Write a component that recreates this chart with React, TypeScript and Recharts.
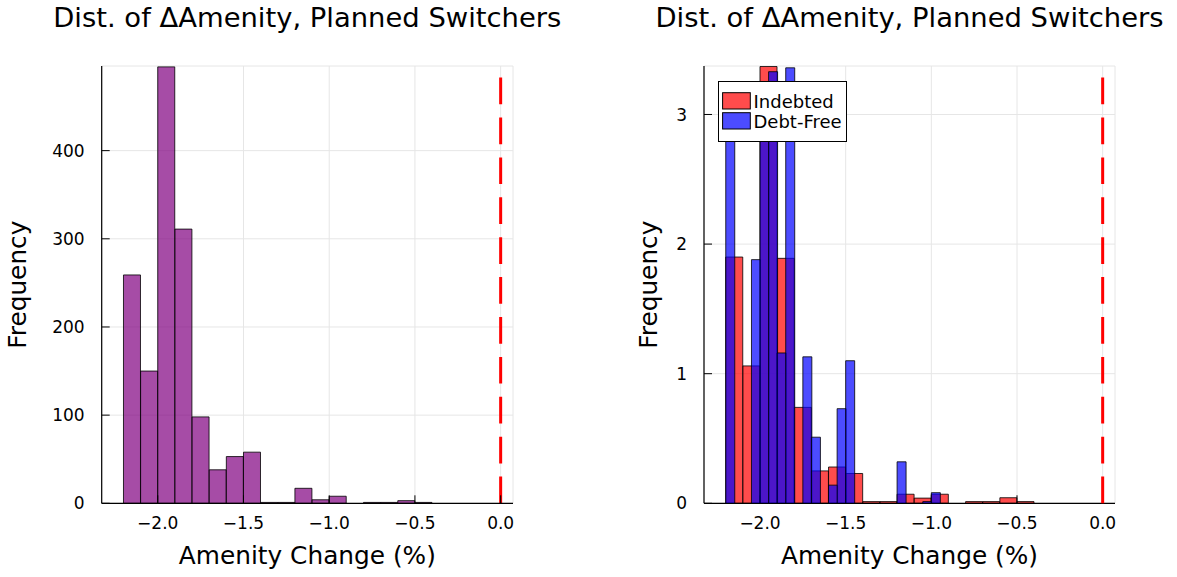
import React from 'react';
import { BarChart, Bar, XAxis, YAxis, CartesianGrid, ReferenceLine, Legend } from 'recharts';

const FONT = '"DejaVu Sans", "Liberation Sans", sans-serif';

const titleText = 'Dist. of \u0394Amenity, Planned Switchers';
const xLabelText = 'Amenity Change (%)';
const yLabelText = 'Frequency';
const seriesNames = ['Indebted', 'Debt-Free'];

const xTicks = [-2, -1.5, -1, -0.5, 0];
const leftYTicks = [0, 100, 200, 300, 400];
const rightYTicks = [0, 1, 2, 3];
const xDomain = [-2.327, 0.072];
const leftYDomain = [0, 496];
const rightYDomain = [0, 3.374];

// Left panel: all planned switchers, bins of width 0.1
const allBinCenters = [-2.15, -2.05, -1.95, -1.85, -1.75, -1.65, -1.55, -1.45, -1.35, -1.25, -1.15, -1.05, -0.95, -0.85, -0.75, -0.65, -0.55, -0.45];
const allCounts = [259, 150, 495, 311, 98, 38, 53, 58, 1, 1, 17, 4, 8, 0, 1, 1, 3, 1];

// Right panel: indebted (bins of width 0.1, normalized)
const indebtedBinCenters = [-2.15, -2.05, -1.95, -1.85, -1.75, -1.65, -1.55, -1.45, -1.35, -1.25, -1.15, -1.05, -0.95, -0.85, -0.75, -0.65, -0.55, -0.45];
const indebtedDensity = [1.9, 1.06, 3.37, 1.89, 0.74, 0.25, 0.28, 0.23, 0.013, 0.013, 0.07, 0.04, 0.07, 0, 0.013, 0.013, 0.043, 0.013];

// Right panel: debt-free (bins of width 0.05, normalized)
const debtFreeBinCenters = [-2.175, -2.125, -2.075, -2.025, -1.975, -1.925, -1.875, -1.825, -1.775, -1.725, -1.675, -1.625, -1.575, -1.525, -1.475, -1.425, -1.375, -1.325, -1.275, -1.225, -1.175, -1.125, -1.075, -1.025, -0.975, -0.925, -0.875, -0.825, -0.775, -0.725, -0.675, -0.625, -0.575, -0.525, -0.475, -0.425];
const debtFreeDensity = [3.12, 0, 0, 1.88, 3.12, 3.33, 1.16, 3.36, 0, 1.13, 0.51, 0, 0.14, 0.73, 1.1, 0, 0, 0, 0, 0, 0.32, 0, 0, 0.013, 0.082, 0, 0, 0, 0, 0, 0, 0, 0, 0, 0, 0];

const allData = allBinCenters.map((x, i) => ({ x, count: allCounts[i] }));
const indebtedData = indebtedBinCenters.map((x, i) => ({ x, density: indebtedDensity[i] }));
const debtFreeData = debtFreeBinCenters.map((x, i) => ({ x, density: debtFreeDensity[i] }));

const fmtX = (v: number) => (v === 0 ? '0.0' : (v < 0 ? '\u2212' : '') + Math.abs(v).toFixed(1));
const fmtY = (v: number) => String(v);

const tickStyle = { fill: '#000', fontSize: 17, fontFamily: FONT };
const GRID = '#e6e6e6';
const LABEL_SIZE = 24.8;

const makeXLabel = () => (props: any) => {
  const vb = props.viewBox || {};
  return (
    <text x={vb.x + vb.width / 2} y={vb.y + 60.7} textAnchor="middle" fontSize={LABEL_SIZE} fontFamily={FONT} fill="#000">
      {xLabelText}
    </text>
  );
};

const makeYLabel = (dx: number) => (props: any) => {
  const vb = props.viewBox || {};
  const x = vb.x + dx;
  const y = vb.y + vb.height / 2;
  return (
    <text x={x} y={y} transform={`rotate(-90, ${x}, ${y})`} textAnchor="middle" fontSize={LABEL_SIZE} fontFamily={FONT} fill="#000">
      {yLabelText}
    </text>
  );
};

const LegendBox = () => (
  <svg width={130} height={62} style={{ display: 'block' }}>
    <rect x={0.5} y={0.5} width={128} height={60} fill="#fff" stroke="#000" strokeWidth={1} />
    <rect x={4.6} y={11.7} width={27.7} height={16.3} fill="#ff0000" fillOpacity={0.7} stroke="#000" strokeWidth={1} />
    <rect x={4.6} y={31.7} width={27.7} height={16.3} fill="#0000ff" fillOpacity={0.7} stroke="#000" strokeWidth={1} />
    <text x={35.5} y={27.3} fontSize={18} fontFamily={FONT} fill="#000">{seriesNames[0]}</text>
    <text x={35.5} y={47.3} fontSize={18} fontFamily={FONT} fill="#000">{seriesNames[1]}</text>
  </svg>
);

export default function App() {
  return (
    <div style={{ position: 'absolute', left: 0, top: 0, width: 1177, height: 577, background: '#fff', fontFamily: FONT }}>
      {/* Left panel */}
      <div style={{ position: 'absolute', left: 0, top: 0 }}>
        <BarChart width={590} height={577} data={allData} margin={{ top: 66, right: 77, bottom: 3.7, left: 31.7 }} barCategoryGap={0}>
          <CartesianGrid stroke={GRID} strokeWidth={1} />
          <XAxis
            dataKey="x"
            type="number"
            domain={xDomain}
            allowDataOverflow
            ticks={xTicks}
            tickFormatter={fmtX}
            tick={tickStyle}
            tickSize={-8}
            tickMargin={22}
            height={70}
            axisLine={{ stroke: '#000', strokeWidth: 1.2 }}
            tickLine={{ stroke: '#000' }}
            label={makeXLabel()}
          />
          <YAxis
            type="number"
            domain={leftYDomain}
            allowDataOverflow
            ticks={leftYTicks}
            tickFormatter={fmtY}
            tick={tickStyle}
            tickSize={-8}
            tickMargin={25}
            width={70}
            axisLine={{ stroke: '#000', strokeWidth: 1.2 }}
            tickLine={{ stroke: '#000' }}
            label={makeYLabel(-5.7)}
          />
          <Bar dataKey="count" fill="#800080" fillOpacity={0.7} stroke="#000" strokeOpacity={0.8} strokeWidth={1} isAnimationActive={false} />
          <ReferenceLine x={0} stroke="#ff0000" strokeWidth={3} strokeDasharray="26.7 13.2" />
        </BarChart>
      </div>

      {/* Right panel, layer 1: axes, grid, indebted */}
      <div style={{ position: 'absolute', left: 600, top: 0 }}>
        <BarChart width={577} height={577} data={indebtedData} margin={{ top: 66, right: 62, bottom: 3.7, left: 34 }} barCategoryGap={0}>
          <CartesianGrid stroke={GRID} strokeWidth={1} />
          <XAxis
            dataKey="x"
            type="number"
            domain={xDomain}
            allowDataOverflow
            ticks={xTicks}
            tickFormatter={fmtX}
            tick={tickStyle}
            tickSize={-8}
            tickMargin={22}
            height={70}
            axisLine={{ stroke: '#000', strokeWidth: 1.2 }}
            tickLine={{ stroke: '#000' }}
            label={makeXLabel()}
          />
          <YAxis
            type="number"
            domain={rightYDomain}
            allowDataOverflow
            ticks={rightYTicks}
            tickFormatter={fmtY}
            tick={tickStyle}
            tickSize={-8}
            tickMargin={25}
            width={70}
            axisLine={{ stroke: '#000', strokeWidth: 1.2 }}
            tickLine={{ stroke: '#000' }}
            label={makeYLabel(23.5)}
          />
          <Bar dataKey="density" name={seriesNames[0]} fill="#ff0000" fillOpacity={0.7} stroke="#000" strokeOpacity={0.8} strokeWidth={1} isAnimationActive={false} />
        </BarChart>
      </div>

      {/* Right panel, layer 2: debt-free, reference line, legend */}
      <div style={{ position: 'absolute', left: 600, top: 0 }}>
        <BarChart width={577} height={577} data={debtFreeData} margin={{ top: 66, right: 62, bottom: 73.7, left: 104 }} barCategoryGap={0}>
          <XAxis dataKey="x" type="number" domain={xDomain} allowDataOverflow hide />
          <YAxis type="number" domain={rightYDomain} allowDataOverflow hide />
          <Bar dataKey="density" name={seriesNames[1]} fill="#0000ff" fillOpacity={0.7} stroke="#000" strokeOpacity={0.8} strokeWidth={1} isAnimationActive={false} />
          <ReferenceLine x={0} stroke="#ff0000" strokeWidth={3} strokeDasharray="26.7 13.2" />
          <Legend
            layout="horizontal"
            verticalAlign="middle"
            align="center"
            wrapperStyle={{ position: 'absolute', left: 117.7, top: 81, width: 130, height: 62 }}
            content={() => <LegendBox />}
          />
        </BarChart>
      </div>

      {/* Titles */}
      <svg width={1177} height={577} style={{ position: 'absolute', left: 0, top: 0, pointerEvents: 'none' }}>
        <text x={307.3} y={26.7} textAnchor="middle" fontSize={27.4} fontFamily={FONT} fill="#000">{titleText}</text>
        <text x={909.5} y={26.7} textAnchor="middle" fontSize={27.4} fontFamily={FONT} fill="#000">{titleText}</text>
      </svg>
    </div>
  );
}
